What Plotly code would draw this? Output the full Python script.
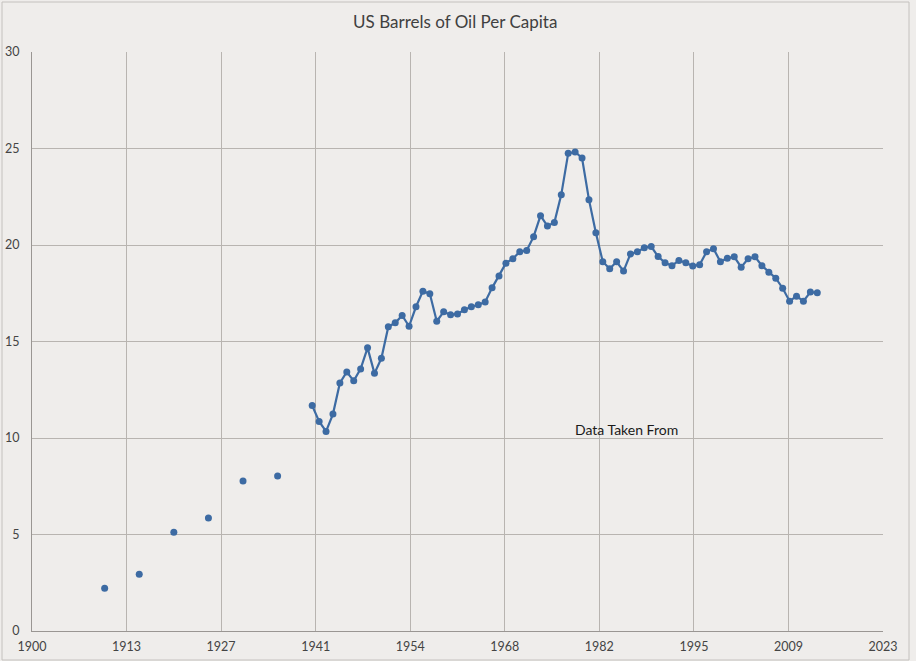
import plotly.graph_objects as go

early_years = [1910, 1915, 1920, 1925, 1930, 1935]
early_values = [2.22, 2.94, 5.12, 5.85, 7.77, 8.03]

years = list(range(1940, 2014))
values = [
    11.68, 10.86, 10.34, 11.24, 12.85, 13.42, 12.96, 13.58, 14.67, 13.35,  # 1940-49
    14.13, 15.76, 15.97, 16.35, 15.79, 16.80, 17.61, 17.47, 16.05, 16.54,  # 1950-59
    16.38, 16.43, 16.64, 16.80, 16.90, 17.05, 17.78, 18.39, 19.06, 19.29,  # 1960-69
    19.65, 19.72, 20.43, 21.52, 20.98, 21.17, 22.61, 24.75, 24.82, 24.51,  # 1970-79
    22.35, 20.63, 19.13, 18.77, 19.13, 18.65, 19.54, 19.65, 19.86, 19.92,  # 1980-89
    19.40, 19.08, 18.93, 19.20, 19.08, 18.91, 18.98, 19.65, 19.81, 19.13,  # 1990-99
    19.31, 19.39, 18.85, 19.29, 19.39, 18.93, 18.59, 18.28, 17.76, 17.09,  # 2000-09
    17.35, 17.09, 17.56, 17.52,  # 2010-13
]

x_min, x_max = 1899.5, 2022.5
x_tick_labels = ["1900", "1913", "1927", "1941", "1954", "1968", "1982", "1995", "2009", "2023"]
x_tick_step = (x_max - x_min) / (len(x_tick_labels) - 1)
x_tick_vals = [x_min + i * x_tick_step for i in range(len(x_tick_labels))]

y_tick_vals = [0, 5, 10, 15, 20, 25, 30]

blue = "#3d6ba3"
bg = "#efedeb"
grid = "#b8b4b0"
font_family = "Lato, Open Sans, sans-serif"

fig = go.Figure()
fig.add_trace(go.Scatter(
    x=early_years, y=early_values, mode="markers",
    marker=dict(color=blue, size=7), hoverinfo="skip", showlegend=False,
))
fig.add_trace(go.Scatter(
    x=years, y=values, mode="lines+markers",
    line=dict(color=blue, width=2.2),
    marker=dict(color=blue, size=7), hoverinfo="skip", showlegend=False,
))

fig.add_annotation(
    x=1985.4, y=10.43, xref="x", yref="y", text="Data Taken From",
    showarrow=False, font=dict(family=font_family, size=14, color="#1a1a1a"),
)

fig.update_layout(
    width=916, height=661,
    paper_bgcolor=bg, plot_bgcolor=bg,
    margin=dict(l=32, r=33, t=52, b=30, autoexpand=False),
    title=dict(
        text="US Barrels of Oil Per Capita",
        x=0.497, xanchor="center", y=1 - 22 / 661, yanchor="middle",
        font=dict(family=font_family, size=17, color="#404040"),
    ),
    xaxis=dict(
        range=[x_min, x_max], tickmode="array", tickvals=x_tick_vals, ticktext=x_tick_labels,
        showgrid=True, gridcolor=grid, gridwidth=1,
        showline=True, linecolor="#9a9693", linewidth=1,
        zeroline=False, ticks="", ticklabelstandoff=4,
        tickfont=dict(family=font_family, size=12.5, color="#444444"),
        fixedrange=True,
    ),
    yaxis=dict(
        range=[0, 30], tickmode="array", tickvals=y_tick_vals,
        showgrid=True, gridcolor=grid, gridwidth=1,
        showline=True, linecolor="#9a9693", linewidth=1,
        zeroline=False, ticks="", ticklabelstandoff=9,
        tickfont=dict(family=font_family, size=12.5, color="#444444"),
        fixedrange=True,
    ),
    shapes=[dict(
        type="rect", xref="paper", yref="paper",
        x0=-30 / 851, x1=1 + 26 / 851, y0=-29 / 579, y1=1 + 50 / 579,
        line=dict(color="#c4c1be", width=1), fillcolor="rgba(0,0,0,0)", layer="below",
    )],
)

fig.write_html(
    "out.html",
    config={"displayModeBar": False, "staticPlot": True},
    post_script="document.body.style.margin='0';document.body.style.overflow='hidden';",
)
